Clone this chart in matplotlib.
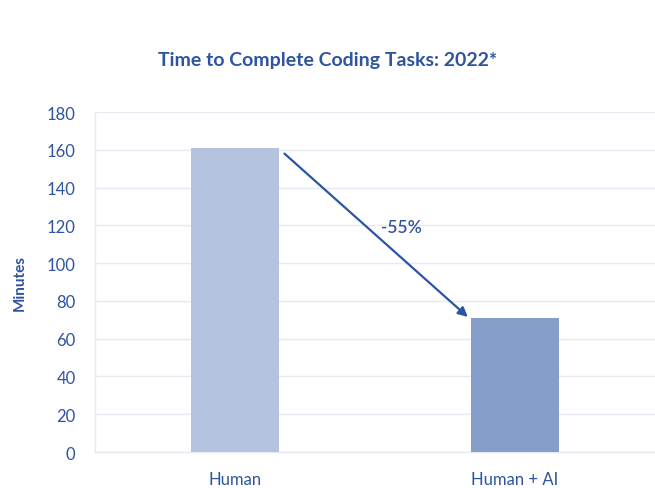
import matplotlib
matplotlib.use("Agg")
import matplotlib.pyplot as plt

categories = ["Human", "Human + AI"]
minutes = [161, 71]
change_label = "-55%"
yticks = [0, 20, 40, 60, 80, 100, 120, 140, 160, 180]

text_color = "#2f54a0"
bar_colors = ["#b4c4de", "#869fca"]
grid_color = "#e6eaf4"

plt.rcParams["font.family"] = ["Lato", "DejaVu Sans"]

fig = plt.figure(figsize=(6.55, 4.89), dpi=100)
ax = fig.add_axes([0.145, 0.0736, 0.855, 0.6953])

x = list(range(len(categories)))
w = 0.317
ax.bar(x, minutes, width=w, color=bar_colors, zorder=3)

ax.set_xlim(-0.5, 1.5)
ax.set_ylim(0, 180)
ax.set_yticks(yticks)
ax.set_xticks(x)
ax.set_xticklabels(categories)
ax.grid(axis="y", color=grid_color, linewidth=1, zorder=0)
ax.tick_params(axis="both", length=0, colors=text_color, labelsize=12)
ax.tick_params(axis="x", pad=14)
ax.tick_params(axis="y", pad=14)
for s in ["top", "right"]:
    ax.spines[s].set_visible(False)
for s in ["left", "bottom"]:
    ax.spines[s].set_color(grid_color)
    ax.spines[s].set_linewidth(1)

ax.set_ylabel("Minutes", color=text_color, fontsize=11, fontweight="bold", labelpad=14)

ax.annotate("", xy=(1 - w / 2 - 0.01, minutes[1] + 0.5),
            xytext=(w / 2 + 0.018, minutes[0] - 3),
            arrowprops=dict(arrowstyle="-|>", color="#2b55a3", lw=1.6,
                            mutation_scale=14, shrinkA=0, shrinkB=0), zorder=5)
ax.text(0.593, 119, change_label, color=text_color, fontsize=12.5,
        fontweight="semibold", ha="center", va="center")

fig.text(0.5, 0.877, "Time to Complete Coding Tasks: 2022*", color=text_color,
         fontsize=14, fontweight="bold", ha="center", va="center")

fig.savefig("out.png", dpi=100)
